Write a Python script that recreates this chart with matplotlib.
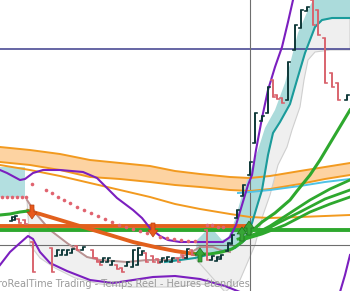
import matplotlib.pyplot as plt
from matplotlib.patches import FancyArrow

# ===== data (screen units: x right, y down) =====
band_x = [0, 30, 60, 90, 120, 150, 175, 200, 230, 250, 270, 300, 325, 350]
band_top = [147, 150, 154, 160, 163, 166, 171, 174, 177, 178, 176, 171, 167, 163]
band_bot = [162, 165, 170, 177, 179, 182, 185, 187, 190, 191, 189, 184, 179, 175]

cyan_x = [238, 250, 270, 300, 325, 350]
cyan_y = [193, 192, 190, 186, 182, 179]

orange2_x = [0, 30, 60, 90, 120, 150, 175, 200, 230, 250, 270, 300, 325, 350]
orange2_y = [165, 170, 176, 183, 190, 197, 204, 209, 214, 217, 218, 217, 216, 215]

purple_up_x = [0, 7, 20, 25, 33, 43, 60, 83, 97, 107, 117, 125, 133, 142, 150, 160,
               168, 180, 200, 223, 230, 236, 242, 248, 252, 256, 262, 268, 275, 282, 288, 293]
purple_up_y = [170, 173, 180, 179, 173, 170, 170, 172, 178, 188, 198, 204, 210, 218, 228, 236,
               240, 242, 242, 242, 237, 225, 205, 185, 175, 150, 118, 90, 67, 47, 22, 0]

purple_lo_x = [0, 10, 20, 28, 33, 40, 50, 67, 90, 113, 133, 153, 175, 200, 225, 240]
purple_lo_y = [265, 252, 243, 236, 239, 252, 263, 271, 280, 283, 280, 277, 276, 279, 286, 292]

purple_r_x = [340, 345, 350]
purple_r_y = [292, 275, 255]

ma_green1_x = [0, 10, 20, 28]
ma_green1_y = [215, 214, 212, 211]
ma_orange_x = [28, 40, 60, 83, 110, 133, 155, 175, 195]
ma_orange_y = [211, 214, 220, 227, 235, 242, 247, 251, 254]
ma_green2_x = [195, 210, 222, 232, 242, 252, 262, 275, 290, 297, 310, 320, 335, 350]
ma_green2_y = [254, 254, 252, 249, 242, 231, 222, 213, 200, 191, 175, 160, 135, 110]

greens_x = [[238, 255, 270, 290, 310, 330, 350],
            [240, 260, 280, 300, 325, 350],
            [242, 262, 285, 310, 330, 350]]
greens_y = [[239, 234, 226, 213, 200, 189, 180],
            [240, 233, 222, 212, 199, 190],
            [240, 234, 225, 212, 204, 197]]

flat_orange_x = [0, 245]
flat_orange_y = [226, 226]
flat_green_x = [0, 350]
flat_green_y = [230, 230]

brown_x = [27, 37, 50, 67, 87, 100, 127, 147, 175, 190, 200, 213, 220, 230]
brown_y = [200, 215, 230, 243, 257, 260, 262, 260, 260, 253, 247, 247, 250, 252]
env_lo_x = [230, 200, 175, 130, 100, 75, 55, 40, 30]
env_lo_y = [288, 284, 287, 287, 284, 278, 268, 258, 245]

teal_x = [165, 195, 215, 235, 245, 252, 258, 262, 268, 273, 280, 290, 297, 305, 315, 322, 332, 350]
teal_y = [262, 258, 253, 248, 240, 223, 203, 190, 155, 133, 122, 104, 80, 53, 27, 20, 18, 18]
teal_out_x = [195, 197, 205, 215, 222, 228, 235, 242, 250, 258, 265, 275, 285, 298, 308, 313, 350]
teal_out_y = [258, 240, 232, 232, 240, 238, 220, 195, 172, 150, 128, 110, 83, 33, 10, 0, 0]
gray_out_x = [350, 330, 315, 308, 304, 300, 292, 287, 278, 270, 263, 255, 240, 225]
gray_out_y = [50, 50, 52, 60, 80, 107, 130, 147, 165, 195, 215, 245, 280, 292]

cyan_box_x = [0, 25]
cyan_box_y = [167, 197]

sar_x = [2, 7, 12, 17, 22, 26, 32, 46, 52, 58, 64, 70, 77, 84, 91, 98, 105, 112, 119, 126,
         133, 140, 147, 160, 167, 174, 181, 188, 195, 207, 212, 218, 223]
sar_y = [197, 197, 197, 197, 197, 197, 184, 190, 193, 197, 200, 203, 207, 210, 213, 216, 219,
         222, 225, 227, 229, 231, 233, 237, 238, 239, 240, 241, 241, 225, 225, 227, 227]

# bars: x, high(y), low(y), up?
bar_x = [12, 15, 19, 25, 33, 52, 57, 62, 67, 72, 77, 83, 93, 97, 100, 103, 108, 112, 117, 122,
         127, 133, 138, 142, 146, 153, 158, 162, 167, 172, 178, 183, 187, 192, 207, 212, 217,
         221, 228, 232, 237, 243, 250, 255, 262, 268, 273, 277, 282, 288, 295, 301, 307, 313,
         318, 325, 332, 338, 347]
bar_hi = [217, 216, 219, 220, 242, 248, 250, 250, 250, 249, 246, 247, 250, 258, 261, 258, 258, 261,
          265, 268, 262, 250, 248, 251, 253, 256, 259, 258, 257, 258, 258, 255, 249, 250, 230, 256,
          257, 255, 243, 235, 210, 185, 162, 113, 116, 87, 80, 95, 98, 62, 25, 10, 7, 0,
          10, 38, 73, 83, 95]
bar_lo = [221, 220, 223, 224, 272, 272, 256, 255, 255, 253, 250, 250, 258, 262, 265, 262, 262, 265,
          269, 272, 266, 267, 265, 255, 262, 262, 263, 262, 261, 262, 262, 258, 258, 255, 260, 260,
          261, 259, 251, 244, 218, 196, 175, 143, 121, 113, 97, 99, 103, 100, 50, 28, 11, 25,
          35, 83, 87, 100, 100]
bar_up = [1, 1, 0, 0, 0, 0, 1, 1, 1, 1, 0, 1, 0, 0, 0, 1, 1, 1, 0, 0,
          1, 1, 1, 1, 0, 0, 0, 1, 1, 1, 0, 0, 1, 0, 0, 1, 1,
          1, 1, 1, 1, 1, 1, 1, 1, 1, 0, 0, 0, 1, 1, 1, 1, 0,
          0, 0, 0, 0, 1]

down_arrow_x = [32, 153]
down_arrow_tip = [219, 237]
up_arrow_x = [200, 242, 249]
up_arrow_tip = [248, 227, 221]

WATERMARK = "ProRealTime Trading - Temps Réel - Heures étendues"

# ===== figure =====
fig = plt.figure(figsize=(3.5, 2.91), dpi=100)
ax = fig.add_axes([0, 0, 1, 1])
ax.set_xlim(0, 350)
ax.set_ylim(291, 0)
ax.axis('off')

# fills
ax.fill_between(band_x, band_top, band_bot, color='#fdd3a2', lw=0, zorder=1)
ax.fill_between(cyan_box_x, cyan_box_y[0], cyan_box_y[1], color='#b3dfe0', lw=0, zorder=1)
ax.fill(brown_x + env_lo_x, brown_y + env_lo_y, color='#f0f0f0', ec='#d0d0d0', lw=0.8, zorder=1)
ax.fill(teal_x[1:] + gray_out_x, teal_y[1:] + gray_out_y, color='#efefef', ec='#cfcfcf', lw=0.8, zorder=1)
ax.fill(teal_out_x + teal_x[::-1][:-1], teal_out_y + teal_y[::-1][:-1], color='#abdbdb', lw=0, zorder=2)

# reference lines
ax.axhline(49, color='#3c3c8c', lw=1.1, zorder=3)
ax.axhline(245, color='#6e6e6e', lw=0.8, zorder=3)
ax.axvline(250, color='#6e6e6e', lw=0.8, zorder=3)

# band + lines
ax.plot(band_x, band_top, color='#f29a1f', lw=1.4, zorder=4)
ax.plot(band_x, band_bot, color='#f29a1f', lw=1.4, zorder=4)
ax.plot(cyan_x, cyan_y, color='#4fc3e6', lw=1.4, zorder=4)
ax.plot(orange2_x, orange2_y, color='#f29a1f', lw=1.4, zorder=4)
ax.plot(brown_x, brown_y, color='#b99292', lw=1.4, zorder=4)
ax.plot(teal_x, teal_y, color='#1a9b9b', lw=1.5, zorder=5)
ax.plot(flat_orange_x, flat_orange_y, color='#e2601c', lw=2.8, zorder=5)
ax.plot(flat_green_x, flat_green_y, color='#2ea82e', lw=2.8, zorder=5)
ax.plot(ma_orange_x, ma_orange_y, color='#e2601c', lw=2.8, zorder=5)
ax.plot(ma_green1_x, ma_green1_y, color='#2ea82e', lw=2.2, zorder=5)
ax.plot(ma_green2_x, ma_green2_y, color='#2ea82e', lw=2.2, zorder=5)
for gx, gy in zip(greens_x, greens_y):
    ax.plot(gx, gy, color='#2ea82e', lw=2.0, zorder=5)
ax.plot(purple_up_x, purple_up_y, color='#7b1fbf', lw=1.5, zorder=6)
ax.plot(purple_lo_x, purple_lo_y, color='#7b1fbf', lw=1.5, zorder=6)
ax.plot(purple_r_x, purple_r_y, color='#7b1fbf', lw=1.5, zorder=6)
ax.plot(sar_x, sar_y, ls='none', marker='o', ms=2.6, color='#e0636f', mec='none', zorder=6)

# bars
for x, hi, lo, up in zip(bar_x, bar_hi, bar_lo, bar_up):
    c = '#0e3838' if up else '#d9646e'
    ax.plot([x, x], [hi, lo], color=c, lw=1.4, zorder=7, solid_capstyle='butt')
    ax.plot([x - 2, x], [lo if up else hi] * 2, color=c, lw=1.2, zorder=7)
    ax.plot([x, x + 2], [hi if up else lo] * 2, color=c, lw=1.2, zorder=7)

# arrows
for x, tip in zip(down_arrow_x, down_arrow_tip):
    ax.add_patch(FancyArrow(x, tip - 14, 0, 14, width=4, head_width=10, head_length=7,
                            length_includes_head=True, color='#e8591c', ec='#b84010', lw=0.5, zorder=8))
for x, tip in zip(up_arrow_x, up_arrow_tip):
    ax.add_patch(FancyArrow(x, tip + 14, 0, -14, width=4, head_width=10, head_length=7,
                            length_includes_head=True, color='#37a637', ec='#1e6e1e', lw=0.5, zorder=8))

ax.text(-8, 287, WATERMARK, fontsize=7, color='#9a9a9a', ha='left', va='baseline', zorder=9)

fig.savefig('out.png', dpi=100)
